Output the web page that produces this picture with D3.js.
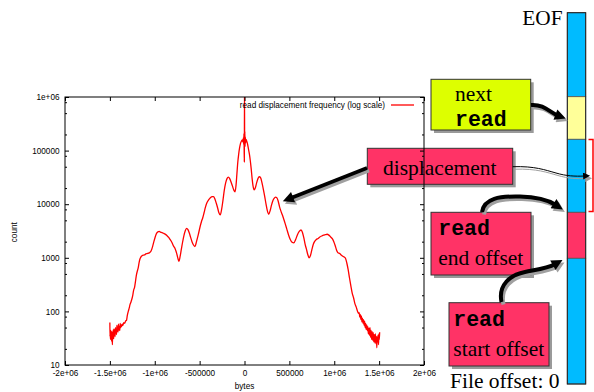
<!DOCTYPE html>
<html>
<head>
<meta charset="utf-8">
<script src="https://cdn.jsdelivr.net/npm/d3@7"></script>
<style>
  body { margin: 0; background: #fff; }
  svg { display: block; }
</style>
</head>
<body>
<svg id="chart" width="594" height="392"></svg>
<script>
/* Data: read displacement (thousands of bytes) vs count */
var offsetK = [
  -1500, -1499, -1496, -1493, -1490, -1487, -1484, -1481, -1478, -1475,
  -1472, -1469, -1466, -1463, -1460, -1457, -1454, -1450, -1446, -1442,
  -1438, -1434, -1430, -1426, -1422, -1418, -1414, -1410, -1405, -1400,
  -1395, -1390, -1385, -1380, -1375, -1370, -1362, -1355, -1345, -1335,
  -1325, -1315, -1305, -1295, -1285, -1275, -1265, -1257, -1245, -1235,
  -1225, -1215, -1205, -1195, -1185, -1175, -1165, -1155, -1145, -1130,
  -1115, -1100, -1085, -1070, -1055, -1040, -1025, -1010, -995, -980,
  -965, -950, -935, -920, -900, -885, -865, -845, -830, -810,
  -790, -773, -755, -740, -730, -718, -705, -690, -675, -660,
  -645, -630, -615, -600, -585, -570, -552, -535, -515, -495,
  -480, -465, -450, -435, -420, -400, -380, -360, -345, -330,
  -315, -300, -285, -270, -255, -240, -225, -210, -195, -180,
  -165, -150, -135, -120, -105, -95, -85, -75, -65, -55,
  -45, -35, -25, -18, -12, -9, -6, -4, -2, -1,
  0, 1, 2, 4, 6, 9, 13, 18, 25, 35,
  45, 55, 64, 75, 85, 95, 108, 120, 135, 150,
  165, 180, 195, 210, 225, 240, 255, 270, 285, 300,
  315, 330, 345, 360, 375, 390, 405, 420, 435, 454,
  470, 490, 510, 530, 550, 570, 590, 610, 630, 645,
  660, 675, 690, 705, 720, 735, 750, 765, 780, 800,
  820, 840, 860, 880, 900, 920, 940, 960, 980, 995,
  1010, 1025, 1040, 1060, 1080, 1100, 1115, 1125, 1140, 1155,
  1170, 1185, 1200, 1215, 1230, 1245, 1260, 1270, 1278, 1284,
  1290, 1296, 1302, 1308, 1314, 1320, 1326, 1332, 1338, 1344,
  1350, 1356, 1362, 1368, 1374, 1380, 1386, 1392, 1398, 1404,
  1410, 1416, 1422, 1428, 1434, 1440, 1446, 1452, 1458, 1464,
  1470, 1474, 1478, 1483, 1488, 1493, 1498, 1502, 1506
];
var counts = [
  62, 34, 40, 30, 44, 33, 38, 28, 42, 35,
  24, 39, 32, 45, 36, 31, 47, 38, 44, 34,
  50, 40, 46, 37, 55, 43, 49, 41, 58, 45,
  52, 44, 60, 50, 56, 52, 58, 55, 62, 60,
  66, 68, 85, 100, 115, 135, 150, 165, 200, 250,
  280, 360, 470, 560, 640, 800, 950, 1030, 1080, 1120,
  1130, 1180, 1200, 1220, 1260, 1350, 1600, 2000, 2450, 2850,
  3050, 3100, 3000, 2950, 2850, 2770, 2600, 2400, 2200, 1950,
  1650, 1480, 1200, 950, 860, 1050, 1400, 1950, 2600, 3200,
  3550, 3350, 2900, 2400, 2000, 1750, 1620, 2000, 2700, 3800,
  4700, 5600, 7000, 8800, 10500, 12000, 13200, 13800, 13800, 12500,
  10500, 8600, 6900, 6300, 8000, 11800, 18300, 25000, 30000, 32000,
  30000, 26000, 22000, 18500, 17000, 22000, 36000, 60000, 85000, 112000,
  135000, 150000, 158000, 145000, 175000, 130000, 210000, 110000, 62000, 250000,
  1000000, 280000, 150000, 230000, 120000, 180000, 140000, 160000, 150000, 130000,
  105000, 85000, 66000, 45000, 30000, 22000, 18500, 20000, 25000, 30000,
  32500, 31000, 25000, 19000, 14000, 10000, 7500, 6500, 7500, 9500,
  11500, 12800, 13500, 13200, 11500, 9000, 7500, 6400, 5400, 4300,
  3500, 2700, 2200, 1950, 1900, 2200, 2700, 3100, 3300, 3000,
  2400, 1800, 1450, 1150, 1000, 1100, 1400, 1750, 2000, 2200,
  2300, 2450, 2550, 2650, 2700, 2750, 2650, 2450, 2250, 2000,
  1700, 1400, 1250, 1200, 1120, 1060, 1020, 980, 800, 600,
  420, 300, 220, 180, 140, 120, 100, 92, 95, 78,
  88, 70, 82, 64, 75, 60, 70, 55, 66, 50,
  60, 46, 56, 44, 52, 38, 48, 36, 50, 33,
  44, 30, 42, 29, 40, 27, 37, 26, 38, 25,
  34, 21, 33, 27, 36, 24, 38, 30, 41
];
var xTickValues = [-2000, -1500, -1000, -500, 0, 500, 1000, 1500, 2000];
var xTickLabels = ["-2e+06", "-1.5e+06", "-1e+06", "-500000", "0", "500000", "1e+06", "1.5e+06", "2e+06"];
var yTickValues = [10, 100, 1000, 10000, 100000, 1000000];
var yTickLabels = ["10", "100", "1000", "10000", "100000", "1e+06"];
var legendLabel = "read displacement frequency (log scale)";

var svg = d3.select("svg#chart");
var sans = "'Liberation Sans', Arial, sans-serif";
var serif = "'Liberation Serif', 'Times New Roman', serif";
var mono = "'Liberation Mono', 'Courier New', monospace";

/* Scales */
var plotL = 65, plotR = 424, plotT = 97, plotB = 365;
var x = d3.scaleLinear().domain([-2000, 2000]).range([plotL, plotR]);
var y = d3.scaleLog().domain([10, 1e6]).range([plotB, plotT]);

var minorTicks = [];
yTickValues.slice(0, -1).forEach(function (d) {
  [2, 5, 8].forEach(function (m) { minorTicks.push(d * m); });
});

svg.append("defs").append("clipPath").attr("id", "plotClip")
  .append("rect").attr("x", plotL).attr("y", plotT)
  .attr("width", plotR - plotL).attr("height", plotB - plotT);

/* Curve */
var line = d3.line()
  .x(function (d) { return x(d[0]); })
  .y(function (d) { return y(d[1]); })
  .curve(d3.curveMonotoneX);

svg.append("path")
  .datum(offsetK.map(function (k, i) { return [k, counts[i]]; }))
  .attr("clip-path", "url(#plotClip)")
  .attr("d", line)
  .attr("fill", "none")
  .attr("stroke", "#ff0000")
  .attr("stroke-width", 1.3);

/* Axes */
function styleAxis(g) {
  g.attr("font-family", sans).attr("font-size", 8.2);
  g.select(".domain").remove();
  g.selectAll("line").attr("stroke", "#000");
  g.selectAll("text").attr("fill", "#000");
}

svg.append("g")
  .attr("transform", "translate(0," + plotB + ")")
  .call(d3.axisBottom(x).tickValues(xTickValues)
    .tickFormat(function (d, i) { return xTickLabels[i]; })
    .tickSize(-4).tickPadding(5.5))
  .call(styleAxis);

svg.append("g")
  .attr("transform", "translate(0," + plotT + ")")
  .call(d3.axisTop(x).tickValues(xTickValues).tickFormat("").tickSize(-4))
  .call(styleAxis);

svg.append("g")
  .attr("transform", "translate(" + plotL + ",0)")
  .call(d3.axisLeft(y).tickValues(yTickValues)
    .tickFormat(function (d, i) { return yTickLabels[i]; })
    .tickSize(-4).tickPadding(5.5))
  .call(styleAxis);

svg.append("g")
  .attr("transform", "translate(" + plotL + ",0)")
  .call(d3.axisLeft(y).tickValues(minorTicks).tickFormat("").tickSize(-2))
  .call(styleAxis);

svg.append("text")
  .attr("x", x(0)).attr("y", 389)
  .attr("text-anchor", "middle")
  .attr("font-family", sans).attr("font-size", 8.2)
  .text("bytes");

svg.append("text")
  .attr("transform", "translate(17," + y(3000) + ") rotate(-90)")
  .attr("text-anchor", "middle")
  .attr("font-family", sans).attr("font-size", 8.2)
  .text("count");

/* Legend */
svg.append("text")
  .attr("x", 385).attr("y", 108)
  .attr("text-anchor", "end")
  .attr("font-family", sans).attr("font-size", 8.2)
  .text(legendLabel);
svg.append("line")
  .attr("x1", 391).attr("x2", 414).attr("y1", 105).attr("y2", 105)
  .attr("stroke", "#ff0000").attr("stroke-width", 1.3);

/* Diagram: file bar */
var barX = 567.3, barW = 18.4;
var segments = [
  { y0: 12.7, y1: 96.7, fill: "#00bbff" },
  { y0: 96.7, y1: 139.3, fill: "#ffff99" },
  { y0: 139.3, y1: 212.3, fill: "#00bbff" },
  { y0: 212.3, y1: 258.3, fill: "#ff3366" },
  { y0: 258.3, y1: 384, fill: "#00bbff" }
];
var bar = svg.append("g");
bar.selectAll("rect").data(segments).enter().append("rect")
  .attr("x", barX).attr("width", barW)
  .attr("y", function (d) { return d.y0; })
  .attr("height", function (d) { return d.y1 - d.y0; })
  .attr("fill", function (d) { return d.fill; })
  .attr("stroke", "#555").attr("stroke-width", 0.8);
bar.append("rect")
  .attr("x", barX).attr("y", 12.7).attr("width", barW).attr("height", 384 - 12.7)
  .attr("fill", "none").attr("stroke", "#222").attr("stroke-width", 1);

/* red bracket */
svg.append("path")
  .attr("d", "M588.5,139.5 H593 V211.5 H588.5")
  .attr("fill", "none").attr("stroke", "#ff0000").attr("stroke-width", 1.5);

svg.append("text")
  .attr("x", 562.5).attr("y", 25)
  .attr("text-anchor", "end")
  .attr("font-family", serif).attr("font-size", 21.3)
  .text("EOF");
svg.append("text")
  .attr("x", 450).attr("y", 387.5)
  .attr("font-family", serif).attr("font-size", 21.5)
  .text("File offset: 0");

/* Diagram: boxes */
function box(bx, by, bw, bh, fill) {
  svg.append("rect").attr("x", bx + 3).attr("y", by + 3)
    .attr("width", bw).attr("height", bh).attr("fill", "#9a9a9a");
  svg.append("rect").attr("x", bx).attr("y", by)
    .attr("width", bw).attr("height", bh)
    .attr("fill", fill).attr("stroke", "#333").attr("stroke-width", 1);
}
function label(tx, ty, txt, family, weight) {
  svg.append("text").attr("x", tx).attr("y", ty)
    .attr("font-family", family).attr("font-weight", weight || "normal")
    .attr("font-size", 21.5).attr("fill", "#000")
    .text(txt);
}

box(431, 79.3, 99.7, 50.7, "#ddff00");
label(455, 101, "next", serif);
label(455, 125.5, "read", mono, "bold");

box(367.3, 148.3, 145.4, 36, "#ff3366");
label(383, 175, "displacement", serif);

box(431, 212.3, 100, 62.7, "#ff3366");
label(438.3, 234.5, "read", mono, "bold");
label(438.3, 265, "end offset", serif);

box(449, 302.7, 100, 63.3, "#ff3366");
label(453.3, 325.5, "read", mono, "bold");
label(453.3, 356, "start offset", serif);

/* plot frame (drawn over the displacement box, as in the original) */
svg.append("rect")
  .attr("x", plotL).attr("y", plotT)
  .attr("width", plotR - plotL).attr("height", plotB - plotT)
  .attr("fill", "none").attr("stroke", "#000").attr("stroke-width", 1);
svg.append("g")
  .attr("transform", "translate(" + plotR + ",0)")
  .call(d3.axisRight(y).tickValues(yTickValues).tickFormat("").tickSize(-4))
  .call(styleAxis);
svg.append("g")
  .attr("transform", "translate(" + plotR + ",0)")
  .call(d3.axisRight(y).tickValues(minorTicks).tickFormat("").tickSize(-2))
  .call(styleAxis);

/* Arrows */
var defs = svg.select("defs");
function marker(id, color, w, h) {
  defs.append("marker").attr("id", id)
    .attr("viewBox", "0 0 10 10").attr("refX", 2).attr("refY", 5)
    .attr("markerUnits", "userSpaceOnUse")
    .attr("markerWidth", w).attr("markerHeight", h)
    .attr("orient", "auto")
    .append("path").attr("d", "M0,0 L10,5 L0,10 z").attr("fill", color);
}
marker("headBig", "#000", 15, 11);
marker("headBigShadow", "#a0a0a0", 15, 11);
marker("headSmall", "#000", 11, 7);
marker("headSmallShadow", "#a0a0a0", 11, 7);

function arrow(d, width, big) {
  svg.append("path").attr("d", d)
    .attr("transform", "translate(2,2.5)")
    .attr("fill", "none").attr("stroke", "#a0a0a0").attr("stroke-width", width)
    .attr("marker-end", big ? "url(#headBigShadow)" : "url(#headSmallShadow)");
  svg.append("path").attr("d", d)
    .attr("fill", "none").attr("stroke", "#000").attr("stroke-width", width)
    .attr("marker-end", big ? "url(#headBig)" : "url(#headSmall)");
}

arrow("M367,168 L291,198", 3.5, true);
arrow("M531,105 C544,104 550,112.5 557.5,115.3", 4, true);
arrow("M482,212 C484,198 500,196 520,196.5 C538,197 548,200 555.4,204.7", 4, true);
arrow("M501.5,302 C498,285 510,275 525,272 C540,269 548,268 554.8,264.2", 4, true);
arrow("M512.7,166.7 C535,166 545,170 556,173 C566,176 575,176.5 584.5,176", 1, false);
</script>
</body>
</html>
